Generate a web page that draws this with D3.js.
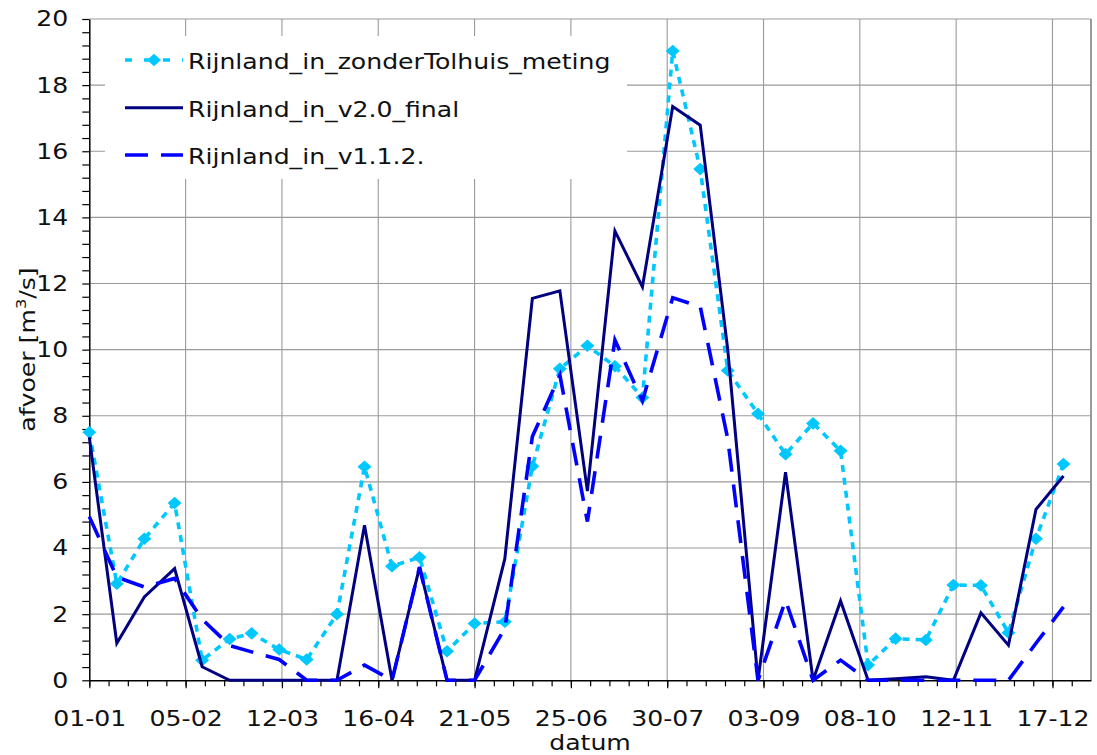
<!DOCTYPE html>
<html><head><meta charset="utf-8">
<script src="https://cdn.jsdelivr.net/npm/d3@7/dist/d3.min.js"></script>
<style>body{margin:0;background:#fff}svg{display:block}</style>
</head><body>
<svg id="c" width="1097" height="755"></svg>
<script>
// ---- data ----
const dateLabels = ["01-01","11-01","21-01","01-02","11-02","21-02","01-03","11-03","21-03",
  "01-04","11-04","21-04","01-05","11-05","21-05","01-06","11-06","21-06","01-07","11-07","21-07",
  "01-08","11-08","21-08","01-09","11-09","21-09","01-10","11-10","21-10","01-11","11-11","21-11",
  "01-12","11-12","21-12"];
const meting = [7.5,2.92,4.28,5.36,0.61,1.25,1.42,0.93,0.63,2.0,6.46,3.45,3.72,0.88,1.72,1.77,6.47,9.42,
  10.12,9.5,8.55,19.03,15.46,9.37,8.06,6.84,7.77,6.94,0.46,1.26,1.22,2.88,2.87,1.44,4.28,6.54];
const v20final = [7.35,1.12,2.52,3.38,0.41,0,0,0,0,0,4.69,0,3.42,0,0,3.68,11.55,11.78,
  5.72,13.59,11.9,17.35,16.79,10.0,0,6.29,0,2.40,0,0.05,0.11,0,2.04,1.06,5.17,6.18];
const v112 = [4.95,3.12,2.82,3.08,1.85,1.05,0.86,0.63,0,0,0.46,0,3.42,0,0,1.57,7.37,9.23,
  4.8,10.29,8.45,11.57,11.3,7.3,0,2.42,0,0.61,0,0,0,0,0,0,1.12,2.22];
const xTickLabels = ["01-01","05-02","12-03","16-04","21-05","25-06","30-07","03-09","08-10","12-11","17-12"];
const yTicks = [0,2,4,6,8,10,12,14,16,18,20];
const yMinor = [0.4,0.8,1.2,1.6,2.4,2.8,3.2,3.6,4.4,4.8,5.2,5.6,6.4,6.8,7.2,7.6,8.4,8.8,9.2,9.6,
  10.4,10.8,11.2,11.6,12.4,12.8,13.2,13.6,14.4,14.8,15.2,15.6,16.4,16.8,17.2,17.6,18.4,18.8,19.2,19.6];
const seriesNames = ["Rijnland_in_zonderTolhuis_meting","Rijnland_in_v2.0_final","Rijnland_in_v1.1.2."];

// ---- setup ----
const YEAR = 2009;
const parse = s => { const [d,m] = s.split("-").map(Number); return new Date(Date.UTC(YEAR, m-1, d)); };
const FONT = "'DejaVu Sans', Verdana, sans-serif";
const FS = 21.5, SX = 1.17;
const svg = d3.select("#c");
const M = {l:89.3, r:1091, t:19, b:680.3};
const x = d3.scaleUtc().domain([parse("01-01"), new Date(Date.UTC(YEAR,11,31))]).range([M.l, M.r]);
const y = d3.scaleLinear().domain([0,20]).range([M.b, M.t]);
const majorDates = xTickLabels.map(parse);
const minorDates = d3.utcThursday.range(parse("01-01"), new Date(Date.UTC(YEAR,11,31)));

// gridlines
const grid = svg.append("g").attr("stroke","#9a9a9a").attr("stroke-width",1.1);
grid.selectAll(".h").data(yTicks.filter(v=>v>0)).join("line")
  .attr("x1",M.l).attr("x2",M.r).attr("y1",d=>y(d)).attr("y2",d=>y(d));
grid.selectAll(".v").data(majorDates.slice(1)).join("line")
  .attr("x1",d=>x(d)).attr("x2",d=>x(d)).attr("y1",M.t).attr("y2",M.b);
svg.append("line").attr("x1",M.r).attr("x2",M.r).attr("y1",M.t).attr("y2",M.b)
  .attr("stroke","#9a9a9a").attr("stroke-width",2);

// legend background
svg.append("rect").attr("x",105).attr("y",36).attr("width",522).attr("height",143).attr("fill","#fff");

// axes
const gy = svg.append("g").attr("transform",`translate(${M.l},0)`)
  .call(d3.axisLeft(y).tickValues(yTicks).tickSize(7).tickSizeOuter(0).tickFormat(d3.format("d")));
const gyMinor = svg.append("g").attr("transform",`translate(${M.l},0)`)
  .call(d3.axisLeft(y).tickValues(yMinor).tickSize(7).tickSizeOuter(0).tickFormat(""));
gyMinor.select(".domain").remove();
const gx = svg.append("g").attr("transform",`translate(0,${M.b})`)
  .call(d3.axisBottom(x).tickValues(majorDates).tickSize(8).tickPadding(22).tickSizeOuter(0)
  .tickFormat(d3.utcFormat("%d-%m")));
const gxMinor = svg.append("g").attr("transform",`translate(0,${M.b})`)
  .call(d3.axisBottom(x).tickValues(minorDates).tickSize(6).tickSizeOuter(0).tickFormat(""));
gxMinor.select(".domain").remove();
[gy,gyMinor,gx,gxMinor].forEach(g=>{
  g.attr("font-family",FONT).attr("font-size",FS);
  g.selectAll(".domain").attr("stroke","#000").attr("stroke-width",1.5);
  g.selectAll(".tick line").attr("stroke","#000").attr("stroke-width",1.2);
  g.selectAll(".tick text").attr("fill","#111");
});
gy.selectAll(".tick text").attr("x",-21/SX).attr("transform",`scale(${SX},1)`);
gx.selectAll(".tick text").attr("transform",`scale(${SX},1)`);

// series
const rows = dateLabels.map((s,i)=>({date:parse(s), a:meting[i], b:v20final[i], c:v112[i]}));
const lineOf = key => d3.line().x(d=>x(d.date)).y(d=>y(d[key]));
const diamond = {draw(ctx, size){ const w=7, h=6.3; ctx.moveTo(0,-h); ctx.lineTo(w,0); ctx.lineTo(0,h); ctx.lineTo(-w,0); ctx.closePath(); }};
const CY = "#00c8ff", NV = "#000080", BL = "#0000ff";
svg.append("path").datum(rows).attr("d",lineOf("a")).attr("fill","none")
  .attr("stroke",CY).attr("stroke-width",3.6).attr("stroke-dasharray","7,6");
svg.append("g").selectAll("path").data(rows).join("path")
  .attr("d",d3.symbol(diamond)).attr("fill",CY)
  .attr("transform",d=>`translate(${x(d.date)},${y(d.a)})`);
svg.append("path").datum(rows).attr("d",lineOf("b")).attr("fill","none")
  .attr("stroke",NV).attr("stroke-width",3).attr("stroke-linejoin","miter");
svg.append("path").datum(rows).attr("d",lineOf("c")).attr("fill","none")
  .attr("stroke",BL).attr("stroke-width",3.6).attr("stroke-dasharray","23,13");

// legend
const leg = svg.append("g");
const ly = [60, 107.7, 155];
leg.append("line").attr("x1",125).attr("x2",183).attr("y1",ly[0]).attr("y2",ly[0])
  .attr("stroke",CY).attr("stroke-width",3.6).attr("stroke-dasharray","7,12");
leg.append("path").attr("d",d3.symbol(diamond)).attr("fill",CY).attr("transform",`translate(154,${ly[0]})`);
leg.append("line").attr("x1",125).attr("x2",183).attr("y1",ly[1]).attr("y2",ly[1])
  .attr("stroke",NV).attr("stroke-width",3);
leg.append("line").attr("x1",125).attr("x2",183).attr("y1",ly[2]).attr("y2",ly[2])
  .attr("stroke",BL).attr("stroke-width",3.6).attr("stroke-dasharray","23,13");
seriesNames.forEach((s,i)=>{
  leg.append("text").attr("transform",`translate(188,${ly[i]+8.8}) scale(${SX},1)`)
    .attr("font-family",FONT).attr("font-size",FS).attr("fill","#111").text(s);
});

// axis titles
svg.append("text").attr("transform",`translate(590,750) scale(${SX},1)`).attr("text-anchor","middle")
  .attr("font-family",FONT).attr("font-size",FS).attr("fill","#111").text("datum");
const yl = svg.append("text").attr("transform",`translate(35,349.5) rotate(-90) scale(${SX},1)`)
  .attr("text-anchor","middle").attr("font-family",FONT).attr("font-size",FS).attr("fill","#111");
yl.append("tspan").text("afvoer [m");
yl.append("tspan").attr("dy",-9).attr("font-size",14).text("3");
yl.append("tspan").attr("dy",9).text("/s]");
</script>
</body></html>
